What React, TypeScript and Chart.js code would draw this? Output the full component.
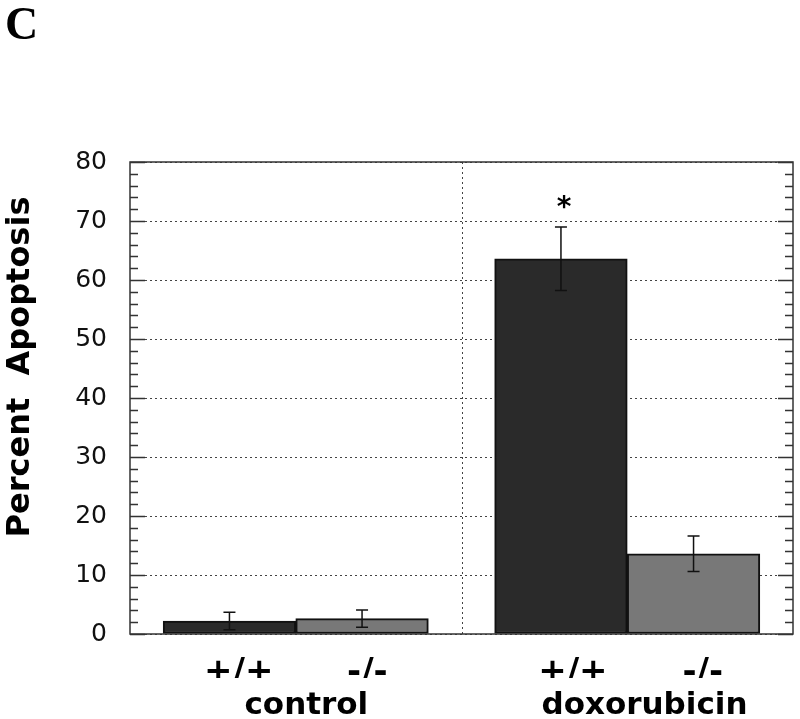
import { useEffect, useRef } from "react";
import { Chart, registerables } from "chart.js";

Chart.register(...registerables);

// ---- data ----
const genotypes = ["+/+", "-/-", "+/+", "-/-"];
const treatments = ["control", "doxorubicin"];
const barPositions = [0.75, 1.75, 3.25, 4.25];
const genotypeLabelPositions = [0.82, 1.79, 3.34, 4.32];
const treatmentLabelPositions = [1.33, 3.88];
const dividerPosition = 2.5;
const apoptosis = [2.2, 2.6, 63.6, 13.6];
const apoptosisError = [1.5, 1.45, 5.4, 3.0];
const significance = ["", "", "*", ""];
const barColors = ["#2a2a2a", "#787878", "#2a2a2a", "#787878"];
const yMin = 0;
const yMax = 80;
const yStep = 10;
const yMinorStep = 2;
const yTitle = "Percent  Apoptosis";
const panelLetter = "C";

const SANS = "'DejaVu Sans', sans-serif";

const decorPlugin = {
  id: "decor",
  beforeDatasetsDraw(chart: any) {
    const { ctx, chartArea, scales } = chart;
    const x = scales.x;
    ctx.save();
    ctx.strokeStyle = "#444";
    ctx.lineWidth = 1;
    ctx.setLineDash([2, 3]);
    const px = Math.round(x.getPixelForValue(dividerPosition)) + 0.5;
    ctx.beginPath();
    ctx.moveTo(px, chartArea.top);
    ctx.lineTo(px, chartArea.bottom);
    ctx.stroke();
    ctx.restore();
  },
  afterDatasetsDraw(chart: any) {
    const { ctx, chartArea, scales } = chart;
    const x = scales.x;
    const y = scales.y;
    ctx.save();
    // error bars
    ctx.strokeStyle = "#111";
    ctx.lineWidth = 1.5;
    barPositions.forEach((bx, i) => {
      const cx = x.getPixelForValue(bx);
      const top = y.getPixelForValue(apoptosis[i] + apoptosisError[i]);
      const bot = y.getPixelForValue(apoptosis[i] - apoptosisError[i]);
      ctx.beginPath();
      ctx.moveTo(cx, top);
      ctx.lineTo(cx, bot);
      ctx.moveTo(cx - 6, top);
      ctx.lineTo(cx + 6, top);
      ctx.moveTo(cx - 6, bot);
      ctx.lineTo(cx + 6, bot);
      ctx.stroke();
      if (significance[i]) {
        ctx.fillStyle = "#000";
        ctx.font = `bold 28px ${SANS}`;
        ctx.textAlign = "center";
        ctx.textBaseline = "middle";
        ctx.fillText(significance[i], cx + 3, top - 18);
      }
    });
    // frame
    ctx.strokeStyle = "#333";
    ctx.lineWidth = 1.5;
    ctx.strokeRect(chartArea.left, chartArea.top, chartArea.right - chartArea.left, chartArea.bottom - chartArea.top);
    // ticks (inside, both sides)
    for (let v = yMin; v <= yMax; v += yMinorStep) {
      const py = Math.round(y.getPixelForValue(v)) + 0.5;
      const len = v % yStep === 0 ? 15 : 8;
      ctx.beginPath();
      ctx.moveTo(chartArea.left, py);
      ctx.lineTo(chartArea.left + len, py);
      ctx.moveTo(chartArea.right, py);
      ctx.lineTo(chartArea.right - len, py);
      ctx.stroke();
    }
    // y title
    ctx.fillStyle = "#000";
    ctx.font = `bold 32px ${SANS}`;
    ctx.textAlign = "center";
    ctx.textBaseline = "middle";
    ctx.translate(21, 367);
    ctx.rotate(-Math.PI / 2);
    ctx.fillText(yTitle, 0, 0);
    ctx.restore();
    // panel letter
    ctx.save();
    ctx.fillStyle = "#000";
    ctx.font = "bold 46px 'Liberation Serif', 'Times New Roman', serif";
    ctx.textAlign = "left";
    ctx.textBaseline = "top";
    ctx.fillText(panelLetter, 5, 4);
    ctx.restore();
  },
};

export default function App() {
  const ref = useRef<HTMLCanvasElement>(null);
  useEffect(() => {
    document.body.style.margin = "0";
    const chart = new Chart(ref.current!, {
      type: "bar",
      data: {
        datasets: [
          {
            data: barPositions.map((bx, i) => ({ x: bx, y: apoptosis[i] })),
            backgroundColor: barColors,
            borderColor: "#111",
            borderWidth: 2,
            borderSkipped: false,
            barPercentage: 1,
            categoryPercentage: 1,
          } as any,
        ],
      },
      options: {
        animation: false,
        responsive: true,
        maintainAspectRatio: false,
        layout: { padding: { top: 162, right: 7, left: 0, bottom: 0 } },
        plugins: { legend: { display: false }, tooltip: { enabled: false } },
        scales: {
          x: {
            type: "linear",
            display: false,
            offset: false,
            grid: { offset: false },
            min: 0,
            max: 5,
            afterBuildTicks: (s: any) => {
              s.ticks = barPositions.map((v) => ({ value: v }));
            },
          },
          xl: {
            type: "linear",
            position: "bottom",
            offset: false,
            min: 0,
            max: 5,
            grid: { display: false, drawTicks: false, offset: false },
            border: { display: false },
            afterBuildTicks: (s: any) => {
              s.ticks = genotypeLabelPositions.map((v) => ({ value: v }));
            },
            ticks: {
              autoSkip: false,
              maxRotation: 0,
              padding: 19,
              color: "#000",
              font: { family: SANS, size: 34, weight: "bold" },
              callback: (_v: any, i: number) => genotypes[i],
            },
            afterFit: (s: any) => {
              s.height = 44;
            },
          },
          xg: {
            type: "linear",
            position: "bottom",
            offset: false,
            min: 0,
            max: 5,
            grid: { display: false, drawTicks: false, offset: false },
            border: { display: false },
            afterBuildTicks: (s: any) => {
              s.ticks = treatmentLabelPositions.map((v) => ({ value: v }));
            },
            ticks: {
              autoSkip: false,
              maxRotation: 0,
              padding: 9,
              color: "#000",
              font: { family: SANS, size: 31, weight: "bold" },
              callback: (_v: any, i: number) => treatments[i],
            },
            afterFit: (s: any) => {
              s.height = 41;
            },
          },
          y: {
            type: "linear",
            min: yMin,
            max: yMax,
            grid: {
              color: "#444",
              lineWidth: 1,
              drawTicks: false,
            },
            border: { display: false, dash: [2, 3] },
            ticks: {
              stepSize: yStep,
              padding: 23,
              color: "#111",
              font: { family: SANS, size: 25 },
            },
            afterFit: (s: any) => {
              s.width = 130;
            },
          },
        },
      } as any,
      plugins: [decorPlugin],
    });
    return () => chart.destroy();
  }, []);
  return (
    <div style={{ width: 800, height: 719, position: "relative" }}>
      <canvas ref={ref} />
    </div>
  );
}
